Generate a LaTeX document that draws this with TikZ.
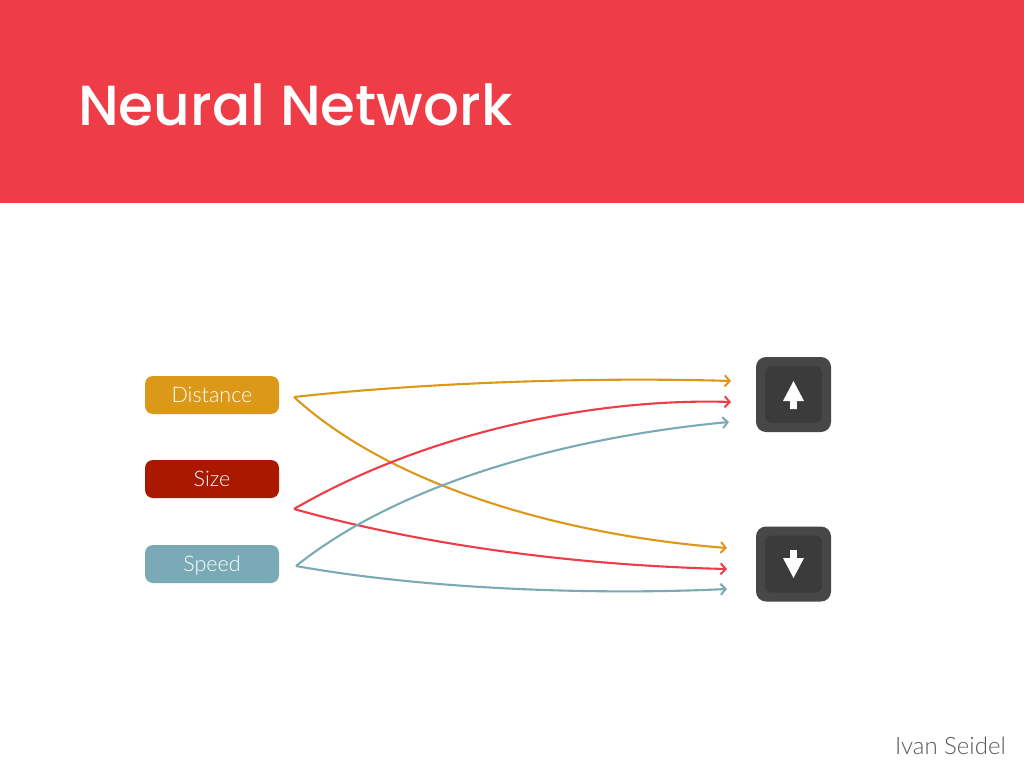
\documentclass[tikz,border=0pt]{standalone}
\usepackage{fontspec}
\setmainfont{Lato Light}
\newfontfamily\titlefont{Poppins Medium}
\usetikzlibrary{arrows.meta}
\definecolor{hdr}{HTML}{EE3D46}
\definecolor{gold}{HTML}{DB9819}
\definecolor{brick}{HTML}{AB1800}
\definecolor{teal2}{HTML}{7AAAB6}
\definecolor{keyo}{HTML}{474747}
\definecolor{keyi}{HTML}{3B3B3B}
\tikzset{
 x=1pt,y=-1pt,
 inbox/.style={rounded corners=8pt,minimum width=134pt,minimum height=38pt,inner sep=0pt,text=white,text height=15pt,text depth=0pt,font=\fontsize{21.5}{21.5}\selectfont},
 keyouter/.style={fill=keyo,rounded corners=10pt,minimum size=75pt,inner sep=0pt},
 keyinner/.style={fill=keyi,rounded corners=7pt,minimum size=57pt,inner sep=0pt},
 link/.style={line width=2.1pt,-{Straight Barb[length=5pt,width=11pt,line width=2pt]},line join=miter},
}
\begin{document}
\begin{tikzpicture}
\useasboundingbox (0,0) rectangle (1024,768);
\fill[white] (0,0) rectangle (1024,768);
\fill[hdr] (0,0) rectangle (1024,203);
\node[anchor=base west,text=white,inner sep=0pt,font=\titlefont\fontsize{56.5}{60}\selectfont] (title) at (78,125) {Neural Network};
\node[anchor=base east,text=black!65,inner sep=0pt,font=\fontsize{24}{26}\selectfont] (author) at (1006,754) {Ivan Seidel};
\node[inbox,fill=gold] (distance) at (212,395) {Distance};
\node[inbox,fill=brick] (size) at (212,479) {Size};
\node[inbox,fill=teal2] (speed) at (212,564) {Speed};
\node[keyouter] (upkey) at (793.5,394.5) {};
\node[keyinner] (upin) at (793.5,394.5) {};
\node[keyouter] (downkey) at (793.5,564) {};
\node[keyinner] (downin) at (793.5,564) {};
\fill[white] (793.5,381) -- (804,401) -- (796.8,401) -- (796.8,409) -- (790.2,409) -- (790.2,401) -- (783,401) -- cycle;
\fill[white] (793.5,578) -- (804,558) -- (796.8,558) -- (796.8,550) -- (790.2,550) -- (790.2,558) -- (783,558) -- cycle;
\coordinate (dOut) at (294,397);
\coordinate (sOut) at (294,509);
\coordinate (vOut) at (296,566);
\coordinate (u1) at (731,381);
\coordinate (u2) at (731,402);
\coordinate (u3) at (729,422);
\coordinate (d1) at (727,548);
\coordinate (d2) at (727,569);
\coordinate (d3) at (727,589);
\draw[link,gold] (dOut) .. controls (430,382) and (600,377) .. (u1);
\draw[link,gold] (dOut) .. controls (390,485) and (560,535) .. (d1);
\draw[link,hdr] (sOut) .. controls (430,430) and (600,398) .. (u2);
\draw[link,hdr] (sOut) .. controls (440,550) and (600,566) .. (d2);
\draw[link,teal2] (vOut) .. controls (410,475) and (590,435) .. (u3);
\draw[link,teal2] (vOut) .. controls (430,590) and (600,595) .. (d3);
\end{tikzpicture}
\end{document}
